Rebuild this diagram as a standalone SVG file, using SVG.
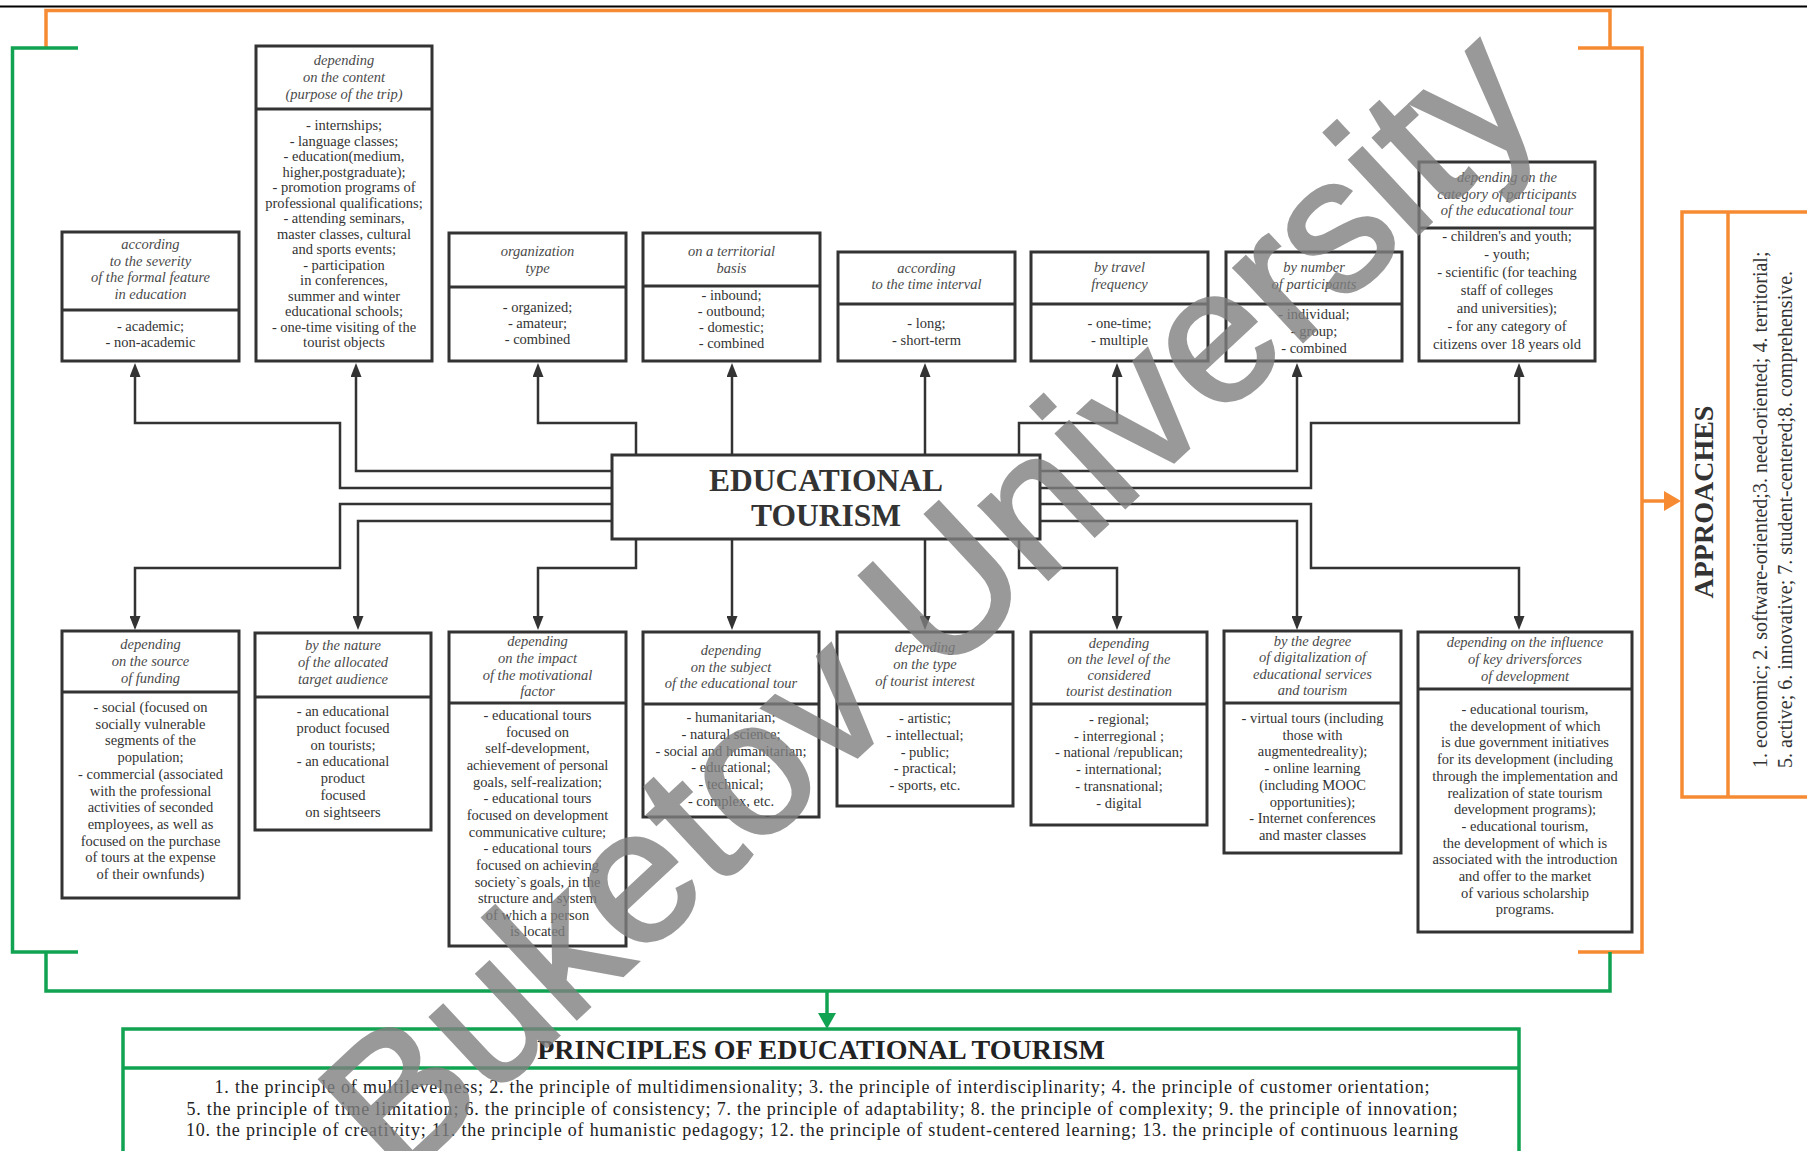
<svg xmlns="http://www.w3.org/2000/svg" width="1807" height="1151" viewBox="0 0 1807 1151">
<defs>
<style>
.bx{fill:#fff;stroke:#333;stroke-width:3}
.dv{stroke:#333;stroke-width:3}
.h{font-family:"Liberation Serif","Times New Roman",serif;font-style:italic;font-size:14.5px;fill:#4a4a4a;text-anchor:middle}
.b{font-family:"Liberation Serif","Times New Roman",serif;font-size:14.5px;fill:#333;text-anchor:middle}
.cn{fill:none;stroke:#333;stroke-width:2.5;marker-end:url(#ah)}
.or{fill:none;stroke:#F68B33;stroke-width:3.5}
.gr{fill:none;stroke:#12A352;stroke-width:3.5}
</style>
<marker id="ah" markerUnits="userSpaceOnUse" markerWidth="14" markerHeight="11" refX="6" refY="5.5" orient="auto">
<path d="M0,0 L14,5.5 L0,11 z" fill="#333"/>
</marker>
</defs>
<rect width="1807" height="1151" fill="#fff"/>
<line x1="0" y1="6.5" x2="1807" y2="6.5" stroke="#000" stroke-width="2"/>

<g id="brackets">
<path class="or" d="M46,48 V10.5 H1610 V48"/>
<path class="or" d="M1578,48 H1642 V952 H1578"/>
<path class="gr" d="M78,48 H12.5 V952 H78"/>
<path class="gr" d="M46,952 V991 H1610 V952"/>
<path class="or" d="M1642,501 H1668"/>
<polygon points="1664,491 1681,501 1664,511" fill="#F68B33"/>
<path class="gr" d="M827,991 V1016"/>
<polygon points="818,1013 836,1013 827,1029" fill="#12A352"/>
</g>

<g id="connectors">
<path class="cn" d="M612,488 H340 V423 H135 V371"/>
<path class="cn" d="M612,471 H356 V371"/>
<path class="cn" d="M636,455 V423 H538 V371"/>
<path class="cn" d="M732,455 V371"/>
<path class="cn" d="M925,455 V371"/>
<path class="cn" d="M1019,455 V423 H1117 V371"/>
<path class="cn" d="M1040,471 H1297 V371"/>
<path class="cn" d="M1040,488 H1311 V423 H1519 V371"/>
<path class="cn" d="M612,504 H340 V568 H135 V622"/>
<path class="cn" d="M612,521 H358 V622"/>
<path class="cn" d="M636,540 V568 H538 V622"/>
<path class="cn" d="M732,540 V622"/>
<path class="cn" d="M925,540 V622"/>
<path class="cn" d="M1019,540 V568 H1117 V622"/>
<path class="cn" d="M1040,521 H1297 V622"/>
<path class="cn" d="M1040,504 H1311 V568 H1519 V622"/>
</g>

<g id="center">
<rect class="bx" x="612" y="455" width="428" height="84" stroke-width="2.5"/>
<text font-family="Liberation Serif,serif" font-weight="bold" font-size="31.5" fill="#333" text-anchor="middle"><tspan x="826" y="491">EDUCATIONAL</tspan><tspan x="826" y="526">TOURISM</tspan></text>
</g>

<g id="t1">
<rect class="bx" x="62" y="232" width="177" height="129"/><line class="dv" x1="62" y1="310" x2="239" y2="310"/>
<text class="h"><tspan x="150.5" y="249">according</tspan><tspan x="150.5" y="265.5">to the severity</tspan><tspan x="150.5" y="282">of the formal feature</tspan><tspan x="150.5" y="298.5">in education</tspan></text>
<text class="b"><tspan x="150.5" y="331">- academic;</tspan><tspan x="150.5" y="346.5">- non-academic</tspan></text>
</g>

<g id="t2">
<rect class="bx" x="256" y="46" width="176" height="315"/><line class="dv" x1="256" y1="109" x2="432" y2="109"/>
<text class="h"><tspan x="344" y="65">depending</tspan><tspan x="344" y="82">on the content</tspan><tspan x="344" y="99">(purpose of the trip)</tspan></text>
<text class="b"><tspan x="344" y="130">- internships;</tspan><tspan x="344" y="145.5">- language classes;</tspan><tspan x="344" y="161">- education(medium,</tspan><tspan x="344" y="176.5">higher,postgraduate);</tspan><tspan x="344" y="192">- promotion programs of</tspan><tspan x="344" y="207.5">professional qualifications;</tspan><tspan x="344" y="223">- attending seminars,</tspan><tspan x="344" y="238.5">master classes, cultural</tspan><tspan x="344" y="254">and sports events;</tspan><tspan x="344" y="269.5">- participation</tspan><tspan x="344" y="285">in conferences,</tspan><tspan x="344" y="300.5">summer and winter</tspan><tspan x="344" y="316">educational schools;</tspan><tspan x="344" y="331.5">- one-time visiting of the</tspan><tspan x="344" y="347">tourist objects</tspan></text>
</g>

<g id="t3">
<rect class="bx" x="449" y="233" width="177" height="128"/><line class="dv" x1="449" y1="287" x2="626" y2="287"/>
<text class="h"><tspan x="537.5" y="256">organization</tspan><tspan x="537.5" y="273">type</tspan></text>
<text class="b"><tspan x="537.5" y="312">- organized;</tspan><tspan x="537.5" y="328">- amateur;</tspan><tspan x="537.5" y="344">- combined</tspan></text>
</g>

<g id="t4">
<rect class="bx" x="643" y="233" width="177" height="128"/><line class="dv" x1="643" y1="286" x2="820" y2="286"/>
<text class="h"><tspan x="731.5" y="256">on a territorial</tspan><tspan x="731.5" y="273">basis</tspan></text>
<text class="b"><tspan x="731.5" y="300">- inbound;</tspan><tspan x="731.5" y="316">- outbound;</tspan><tspan x="731.5" y="332">- domestic;</tspan><tspan x="731.5" y="348">- combined</tspan></text>
</g>

<g id="t5">
<rect class="bx" x="838" y="252" width="177" height="109"/><line class="dv" x1="838" y1="304" x2="1015" y2="304"/>
<text class="h"><tspan x="926.5" y="273">according</tspan><tspan x="926.5" y="289">to the time interval</tspan></text>
<text class="b"><tspan x="926.5" y="328">- long;</tspan><tspan x="926.5" y="345">- short-term</tspan></text>
</g>

<g id="t6">
<rect class="bx" x="1031" y="252" width="177" height="109"/><line class="dv" x1="1031" y1="304" x2="1208" y2="304"/>
<text class="h"><tspan x="1119.5" y="272">by travel</tspan><tspan x="1119.5" y="289">frequency</tspan></text>
<text class="b"><tspan x="1119.5" y="328">- one-time;</tspan><tspan x="1119.5" y="345">- multiple</tspan></text>
</g>

<g id="t7">
<rect class="bx" x="1226" y="252" width="176" height="109"/><line class="dv" x1="1226" y1="304" x2="1402" y2="304"/>
<text class="h"><tspan x="1314" y="272">by number</tspan><tspan x="1314" y="289">of participants</tspan></text>
<text class="b"><tspan x="1314" y="319">- individual;</tspan><tspan x="1314" y="336">- group;</tspan><tspan x="1314" y="353">- combined</tspan></text>
</g>

<g id="t8">
<rect class="bx" x="1419" y="162" width="176" height="199"/><line class="dv" x1="1419" y1="228" x2="1595" y2="228"/>
<text class="h"><tspan x="1507" y="182">depending on the</tspan><tspan x="1507" y="199">category of participants</tspan><tspan x="1507" y="215">of the educational tour</tspan></text>
<text class="b"><tspan x="1507" y="241">- children's and youth;</tspan><tspan x="1507" y="259">- youth;</tspan><tspan x="1507" y="277">- scientific (for teaching</tspan><tspan x="1507" y="295">staff of colleges</tspan><tspan x="1507" y="313">and universities);</tspan><tspan x="1507" y="331">- for any category of</tspan><tspan x="1507" y="349">citizens over 18 years old</tspan></text>
</g>

<g id="b1">
<rect class="bx" x="62" y="631" width="177" height="267"/><line class="dv" x1="62" y1="692" x2="239" y2="692"/>
<text class="h"><tspan x="150.5" y="649">depending</tspan><tspan x="150.5" y="666">on the source</tspan><tspan x="150.5" y="683">of funding</tspan></text>
<text class="b"><tspan x="150.5" y="712">- social (focused on</tspan><tspan x="150.5" y="728.7">socially vulnerable</tspan><tspan x="150.5" y="745.4">segments of the</tspan><tspan x="150.5" y="762.1">population;</tspan><tspan x="150.5" y="778.8">- commercial (associated</tspan><tspan x="150.5" y="795.5">with the professional</tspan><tspan x="150.5" y="812.2">activities of seconded</tspan><tspan x="150.5" y="828.9">employees, as well as</tspan><tspan x="150.5" y="845.6">focused on the purchase</tspan><tspan x="150.5" y="862.3">of tours at the expense</tspan><tspan x="150.5" y="879">of their ownfunds)</tspan></text>
</g>

<g id="b2">
<rect class="bx" x="255" y="633" width="176" height="197"/><line class="dv" x1="255" y1="697" x2="431" y2="697"/>
<text class="h"><tspan x="343" y="650">by the nature</tspan><tspan x="343" y="667">of the allocated</tspan><tspan x="343" y="684">target audience</tspan></text>
<text class="b"><tspan x="343" y="716">- an educational</tspan><tspan x="343" y="732.8">product focused</tspan><tspan x="343" y="749.6">on tourists;</tspan><tspan x="343" y="766.4">- an educational</tspan><tspan x="343" y="783.2">product</tspan><tspan x="343" y="800">focused</tspan><tspan x="343" y="816.8">on sightseers</tspan></text>
</g>

<g id="b3">
<rect class="bx" x="449" y="632" width="177" height="314"/><line class="dv" x1="449" y1="703" x2="626" y2="703"/>
<text class="h"><tspan x="537.5" y="646">depending</tspan><tspan x="537.5" y="663">on the impact</tspan><tspan x="537.5" y="680">of the motivational</tspan><tspan x="537.5" y="696">factor</tspan></text>
<text class="b"><tspan x="537.5" y="720">- educational tours</tspan><tspan x="537.5" y="736.6">focused on</tspan><tspan x="537.5" y="753.3">self-development,</tspan><tspan x="537.5" y="770">achievement of personal</tspan><tspan x="537.5" y="786.6">goals, self-realization;</tspan><tspan x="537.5" y="803.2">- educational tours</tspan><tspan x="537.5" y="819.9">focused on development</tspan><tspan x="537.5" y="836.5">communicative culture;</tspan><tspan x="537.5" y="853.2">- educational tours</tspan><tspan x="537.5" y="869.8">focused on achieving</tspan><tspan x="537.5" y="886.5">society`s goals, in the</tspan><tspan x="537.5" y="903.1">structure and system</tspan><tspan x="537.5" y="919.8">of which a person</tspan><tspan x="537.5" y="936.4">is located</tspan></text>
</g>

<g id="b4">
<rect class="bx" x="643" y="632" width="176" height="185"/><line class="dv" x1="643" y1="704" x2="819" y2="704"/>
<text class="h"><tspan x="731" y="655">depending</tspan><tspan x="731" y="672">on the subject</tspan><tspan x="731" y="688">of the educational tour</tspan></text>
<text class="b"><tspan x="731" y="722">- humanitarian;</tspan><tspan x="731" y="738.8">- natural science;</tspan><tspan x="731" y="755.6">- social and humanitarian;</tspan><tspan x="731" y="772.4">- educational;</tspan><tspan x="731" y="789.2">- technical;</tspan><tspan x="731" y="806">- complex, etc.</tspan></text>
</g>

<g id="b5">
<rect class="bx" x="837" y="632" width="176" height="174"/><line class="dv" x1="837" y1="704" x2="1013" y2="704"/>
<text class="h"><tspan x="925" y="652">depending</tspan><tspan x="925" y="669">on the type</tspan><tspan x="925" y="686">of tourist interest</tspan></text>
<text class="b"><tspan x="925" y="723">- artistic;</tspan><tspan x="925" y="739.8">- intellectual;</tspan><tspan x="925" y="756.6">- public;</tspan><tspan x="925" y="773.4">- practical;</tspan><tspan x="925" y="790.2">- sports, etc.</tspan></text>
</g>

<g id="b6">
<rect class="bx" x="1031" y="632" width="176" height="193"/><line class="dv" x1="1031" y1="704" x2="1207" y2="704"/>
<text class="h"><tspan x="1119" y="648">depending</tspan><tspan x="1119" y="664">on the level of the</tspan><tspan x="1119" y="680">considered</tspan><tspan x="1119" y="696">tourist destination</tspan></text>
<text class="b"><tspan x="1119" y="724">- regional;</tspan><tspan x="1119" y="740.7">- interregional ;</tspan><tspan x="1119" y="757.4">- national /republican;</tspan><tspan x="1119" y="774.1">- international;</tspan><tspan x="1119" y="790.8">- transnational;</tspan><tspan x="1119" y="807.5">- digital</tspan></text>
</g>

<g id="b7">
<rect class="bx" x="1224" y="631" width="177" height="222"/><line class="dv" x1="1224" y1="703" x2="1401" y2="703"/>
<text class="h"><tspan x="1312.5" y="646">by the degree</tspan><tspan x="1312.5" y="662">of digitalization of</tspan><tspan x="1312.5" y="679">educational services</tspan><tspan x="1312.5" y="695">and tourism</tspan></text>
<text class="b"><tspan x="1312.5" y="723">- virtual tours (including</tspan><tspan x="1312.5" y="739.7">those with</tspan><tspan x="1312.5" y="756.4">augmentedreality);</tspan><tspan x="1312.5" y="773.1">- online learning</tspan><tspan x="1312.5" y="789.8">(including MOOC</tspan><tspan x="1312.5" y="806.5">opportunities);</tspan><tspan x="1312.5" y="823.2">- Internet conferences</tspan><tspan x="1312.5" y="839.9">and master classes</tspan></text>
</g>

<g id="b8">
<rect class="bx" x="1418" y="632" width="214" height="300"/><line class="dv" x1="1418" y1="689" x2="1632" y2="689"/>
<text class="h"><tspan x="1525" y="647">depending on the influence</tspan><tspan x="1525" y="664">of key driversforces</tspan><tspan x="1525" y="681">of development</tspan></text>
<text class="b"><tspan x="1525" y="714">- educational tourism,</tspan><tspan x="1525" y="730.7">the development of which</tspan><tspan x="1525" y="747.4">is due government initiatives</tspan><tspan x="1525" y="764.1">for its development (including</tspan><tspan x="1525" y="780.8">through the implementation and</tspan><tspan x="1525" y="797.5">realization of state tourism</tspan><tspan x="1525" y="814.2">development programs);</tspan><tspan x="1525" y="830.9">- educational tourism,</tspan><tspan x="1525" y="847.6">the development of which is</tspan><tspan x="1525" y="864.3">associated with the introduction</tspan><tspan x="1525" y="881">and offer to the market</tspan><tspan x="1525" y="897.7">of various scholarship</tspan><tspan x="1525" y="914.4">programs.</tspan></text>
</g>

<g id="approaches">
<rect x="1682" y="212" width="140" height="585" fill="#fff" stroke="#F68B33" stroke-width="3.5"/>
<line x1="1728" y1="212" x2="1728" y2="797" stroke="#F68B33" stroke-width="3.5"/>
<text transform="translate(1713,502) rotate(-90)" font-family="Liberation Serif,serif" font-weight="bold" font-size="28" fill="#333" text-anchor="middle" x="0" y="0">APPROACHES</text>
<text transform="translate(1767,768) rotate(-90)" font-family="Liberation Serif,serif" font-size="20" fill="#333" x="0" y="0">1. economic; 2. software-oriented;3. need-oriented; 4. territorial;</text>
<text transform="translate(1792,768) rotate(-90)" font-family="Liberation Serif,serif" font-size="20" fill="#333" x="0" y="0">5. active; 6. innovative;  7. student-centered;8. comprehensive.</text>
</g>

<g id="principles">
<rect x="123" y="1029" width="1396" height="130" fill="#fff" stroke="#12A352" stroke-width="3.5"/>
<line x1="123" y1="1068" x2="1519" y2="1068" stroke="#12A352" stroke-width="3.5"/>
<text x="821" y="1059" font-family="Liberation Serif,serif" font-weight="bold" font-size="28" fill="#222" text-anchor="middle">PRINCIPLES OF EDUCATIONAL TOURISM</text>
<g font-family="Liberation Serif,serif" font-size="18" fill="#222" text-anchor="middle">
<text x="822" y="1093" textLength="1215">1. the principle of multilevelness; 2. the principle of multidimensionality; 3. the principle of interdisciplinarity; 4. the principle of customer orientation;</text>
<text x="822" y="1115" textLength="1271">5. the principle of time limitation; 6. the principle of consistency; 7. the principle of adaptability; 8. the principle of complexity; 9. the principle of innovation;</text>
<text x="822" y="1136" textLength="1272">10. the principle of creativity; 11. the principle of humanistic pedagogy; 12. the principle of student-centered learning; 13. the principle of continuous learning</text>
</g>
</g>

<g id="watermark" opacity="0.8">
<text x="973" y="649" transform="rotate(-43 973 649)" font-family="Liberation Sans,Arial,sans-serif" font-size="190" fill="#808080" stroke="#808080" stroke-width="3.5" text-anchor="middle">Buketov University</text>
</g>
</svg>
